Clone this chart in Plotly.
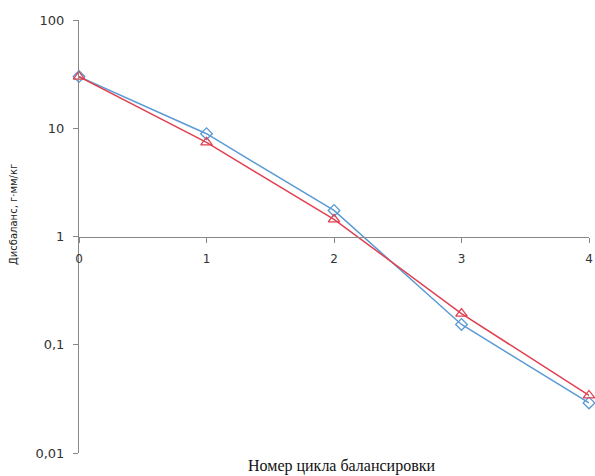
import plotly.graph_objects as go

cycles = [0, 1, 2, 3, 4]
blue_vals = [30, 8.9, 1.74, 0.154, 0.029]
red_vals = [30, 7.4, 1.44, 0.194, 0.034]
y_ticks = [0.01, 0.1, 1, 10, 100]
y_tick_text = ["0,01", "0,1", "1", "10", "100"]

W, H = 595, 476
L, R, T, B = 79, 6, 20, 23

fig = go.Figure()
fig.add_trace(go.Scatter(x=cycles, y=blue_vals, mode="lines+markers",
                         line=dict(color="#5B9BD5", width=1.5),
                         marker=dict(symbol="diamond-open", size=9, color="#5B9BD5", line=dict(width=1.3)),
                         cliponaxis=False, showlegend=False))
fig.add_trace(go.Scatter(x=cycles, y=red_vals, mode="lines+markers",
                         line=dict(color="#E04050", width=1.5),
                         marker=dict(symbol="triangle-up-open", size=10, color="#E04050", line=dict(width=1.3)),
                         cliponaxis=False, showlegend=False))

plot_w = W - L - R
plot_h = H - T - B

fig.update_layout(
    width=W, height=H,
    margin=dict(l=L, r=R, t=T, b=B, autoexpand=False),
    paper_bgcolor="white", plot_bgcolor="white",
    xaxis=dict(range=[0, 4], tickvals=cycles, ticktext=[str(c) for c in cycles],
               showgrid=False, zeroline=False, showline=True, linecolor="#888888", linewidth=1,
               ticks="outside", ticklen=5, tickcolor="#888888", ticklabelstandoff=6,
               anchor="free", position=0.5, automargin=False,
               tickfont=dict(family="DejaVu Sans", size=12, color="#333333")),
    yaxis=dict(type="log", range=[-2, 2], tickvals=y_ticks, ticktext=y_tick_text,
               showgrid=False, zeroline=False, showline=True, linecolor="#888888", linewidth=1,
               ticks="outside", ticklen=5, tickcolor="#888888", automargin=False,
               ticklabelstandoff=6,
               tickfont=dict(family="DejaVu Sans", size=13, color="#333333")),
    annotations=[
        dict(text="Дисбаланс, г·мм/кг", x=(13 - L) / plot_w, y=(H - B - 215) / plot_h,
             xref="paper", yref="paper", xanchor="center", yanchor="middle",
             showarrow=False, textangle=-90,
             font=dict(family="DejaVu Sans", size=10, color="#222222")),
        dict(text="Номер цикла балансировки", x=(341 - L) / plot_w, y=(H - B - 466) / plot_h,
             xref="paper", yref="paper", xanchor="center", yanchor="middle",
             showarrow=False,
             font=dict(family="Liberation Serif", size=16, color="#111111")),
    ],
)

fig.write_html("out.html")
